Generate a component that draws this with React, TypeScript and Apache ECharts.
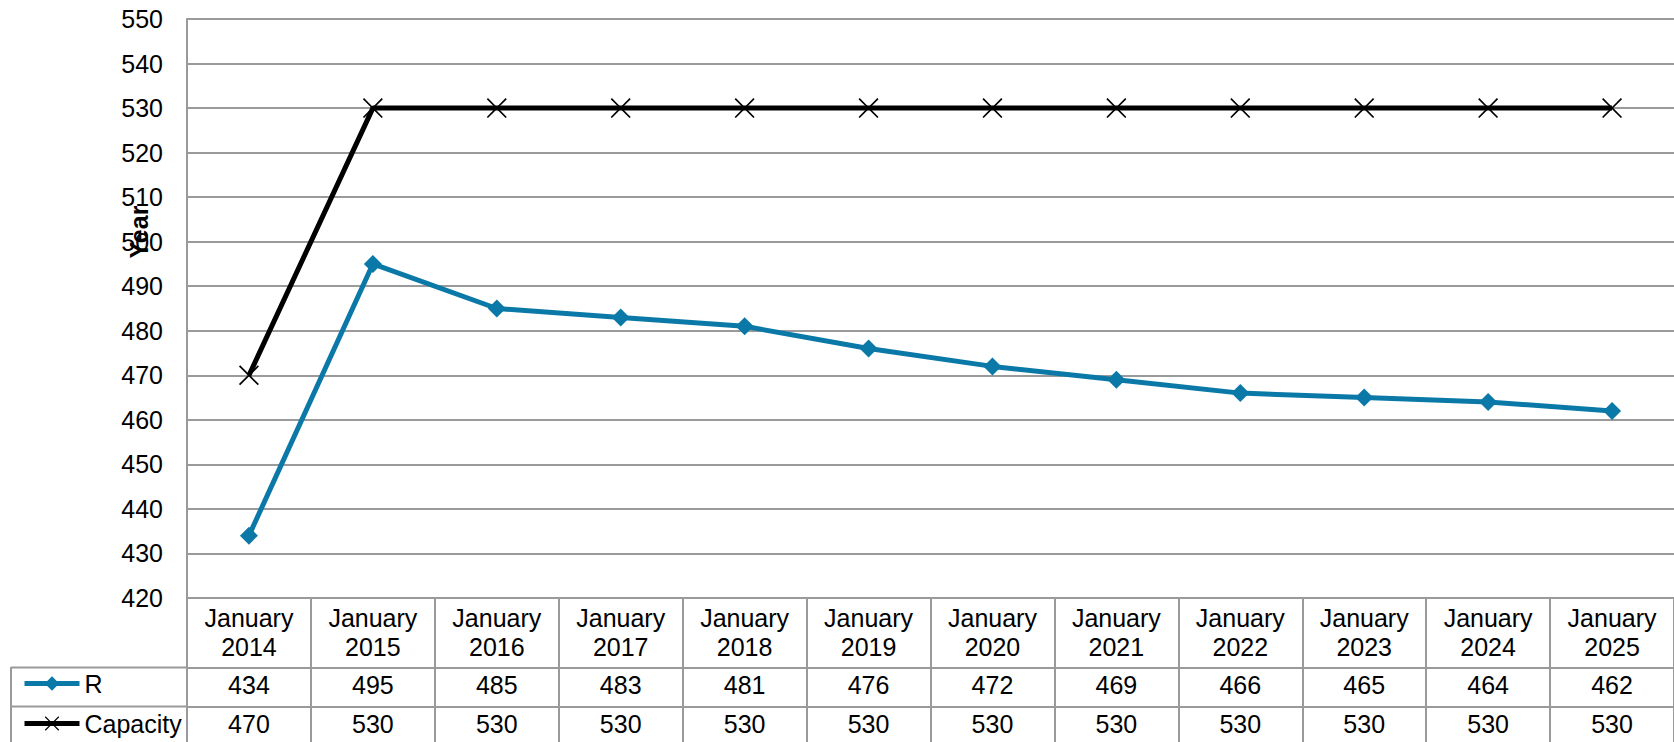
import React, { useEffect, useRef } from "react";
import * as echarts from "echarts";

const categories = [
  "January\n2014", "January\n2015", "January\n2016", "January\n2017",
  "January\n2018", "January\n2019", "January\n2020", "January\n2021",
  "January\n2022", "January\n2023", "January\n2024", "January\n2025",
];
const rValues = [434, 495, 485, 483, 481, 476, 472, 469, 466, 465, 464, 462];
const capacityValues = [470, 530, 530, 530, 530, 530, 530, 530, 530, 530, 530, 530];
const yMin = 420;
const yMax = 550;
const yInterval = 10;

const FONT = "'Liberation Sans', Arial, sans-serif";
const GRAY = "#9a9a9a";
const BLUE = "#0b79a7";
const CROSS =
  "path://M0,1.2 L1.2,0 L10,8.8 L18.8,0 L20,1.2 L11.2,10 L20,18.8 L18.8,20 L10,11.2 L1.2,20 L0,18.8 L8.8,10 Z";

export default function App() {
  const ref = useRef<HTMLDivElement>(null);
  useEffect(() => {
    document.body.style.margin = "0";
    const chart = echarts.init(ref.current!, null, { renderer: "svg" });
    const gridLeft = 187;
    const gridTop = 19;
    const gridBottom = 144;
    const tableAxis = (data: (string | number)[], offset: number) => ({
      type: "category",
      data: data.map(String),
      position: "bottom",
      offset,
      gridIndex: 0,
      boundaryGap: true,
      axisLine: { show: true, lineStyle: { color: GRAY, width: 2 } },
      axisTick: { show: false },
      axisLabel: { color: "#000", fontSize: 25, fontFamily: FONT, margin: 2, lineHeight: 29 },
      splitLine: { show: false },
    });
    const legendBase = {
      left: 17,
      itemWidth: 55,
      itemHeight: 18,
      lineStyle: { width: 5 },
      textStyle: { color: "#000", fontSize: 25, fontFamily: FONT },
    };
    chart.setOption({
      animation: false,
      grid: { left: gridLeft, top: gridTop, right: 0, bottom: gridBottom, containLabel: false },
      legend: [
        { ...legendBase, data: ["R"], top: 666 },
        { ...legendBase, data: ["Capacity"], top: 706 },
      ],
      xAxis: [
        {
          type: "category",
          data: categories,
          boundaryGap: true,
          axisLine: { show: true, lineStyle: { color: GRAY, width: 2 } },
          axisTick: { show: true, length: 150, lineStyle: { color: GRAY, width: 2 } },
          axisLabel: { color: "#000", fontSize: 25, fontFamily: FONT, margin: 5, lineHeight: 29 },
          splitLine: { show: false },
        },
        tableAxis(rValues, 70),
        tableAxis(capacityValues, 109),
      ],
      yAxis: {
        type: "value",
        min: yMin,
        max: yMax,
        interval: yInterval,
        axisLine: { show: true, lineStyle: { color: GRAY, width: 2 } },
        axisTick: { show: false },
        axisLabel: { color: "#000", fontSize: 25, fontFamily: FONT, margin: 24 },
        splitLine: { show: true, lineStyle: { color: GRAY, width: 2 } },
      },
      series: [
        {
          name: "R",
          type: "line",
          data: rValues,
          xAxisIndex: 0,
          symbol: "diamond",
          symbolSize: 18,
          lineStyle: { color: BLUE, width: 5 },
          itemStyle: { color: BLUE },
        },
        {
          name: "Capacity",
          type: "line",
          data: capacityValues,
          xAxisIndex: 0,
          symbol: CROSS,
          symbolSize: 20,
          lineStyle: { color: "#000", width: 5 },
          itemStyle: { color: "#000" },
          z: 3,
        },
      ],
      graphic: [
        { type: "line", shape: { x1: 11, y1: 667.5, x2: 187, y2: 667.5 }, style: { stroke: GRAY, lineWidth: 2 } },
        { type: "line", shape: { x1: 11, y1: 706.5, x2: 187, y2: 706.5 }, style: { stroke: GRAY, lineWidth: 2 } },
        { type: "line", shape: { x1: 11, y1: 667, x2: 11, y2: 742 }, style: { stroke: GRAY, lineWidth: 2 } },
        {
          type: "text",
          x: 139,
          y: 232,
          rotation: Math.PI / 2,
          style: {
            text: "Year",
            fontSize: 25,
            fontWeight: "bold",
            fontFamily: FONT,
            fill: "#000",
            align: "center",
            verticalAlign: "middle",
          },
        },
      ],
    });
    return () => chart.dispose();
  }, []);
  return <div ref={ref} style={{ width: 1674, height: 742 }} />;
}
